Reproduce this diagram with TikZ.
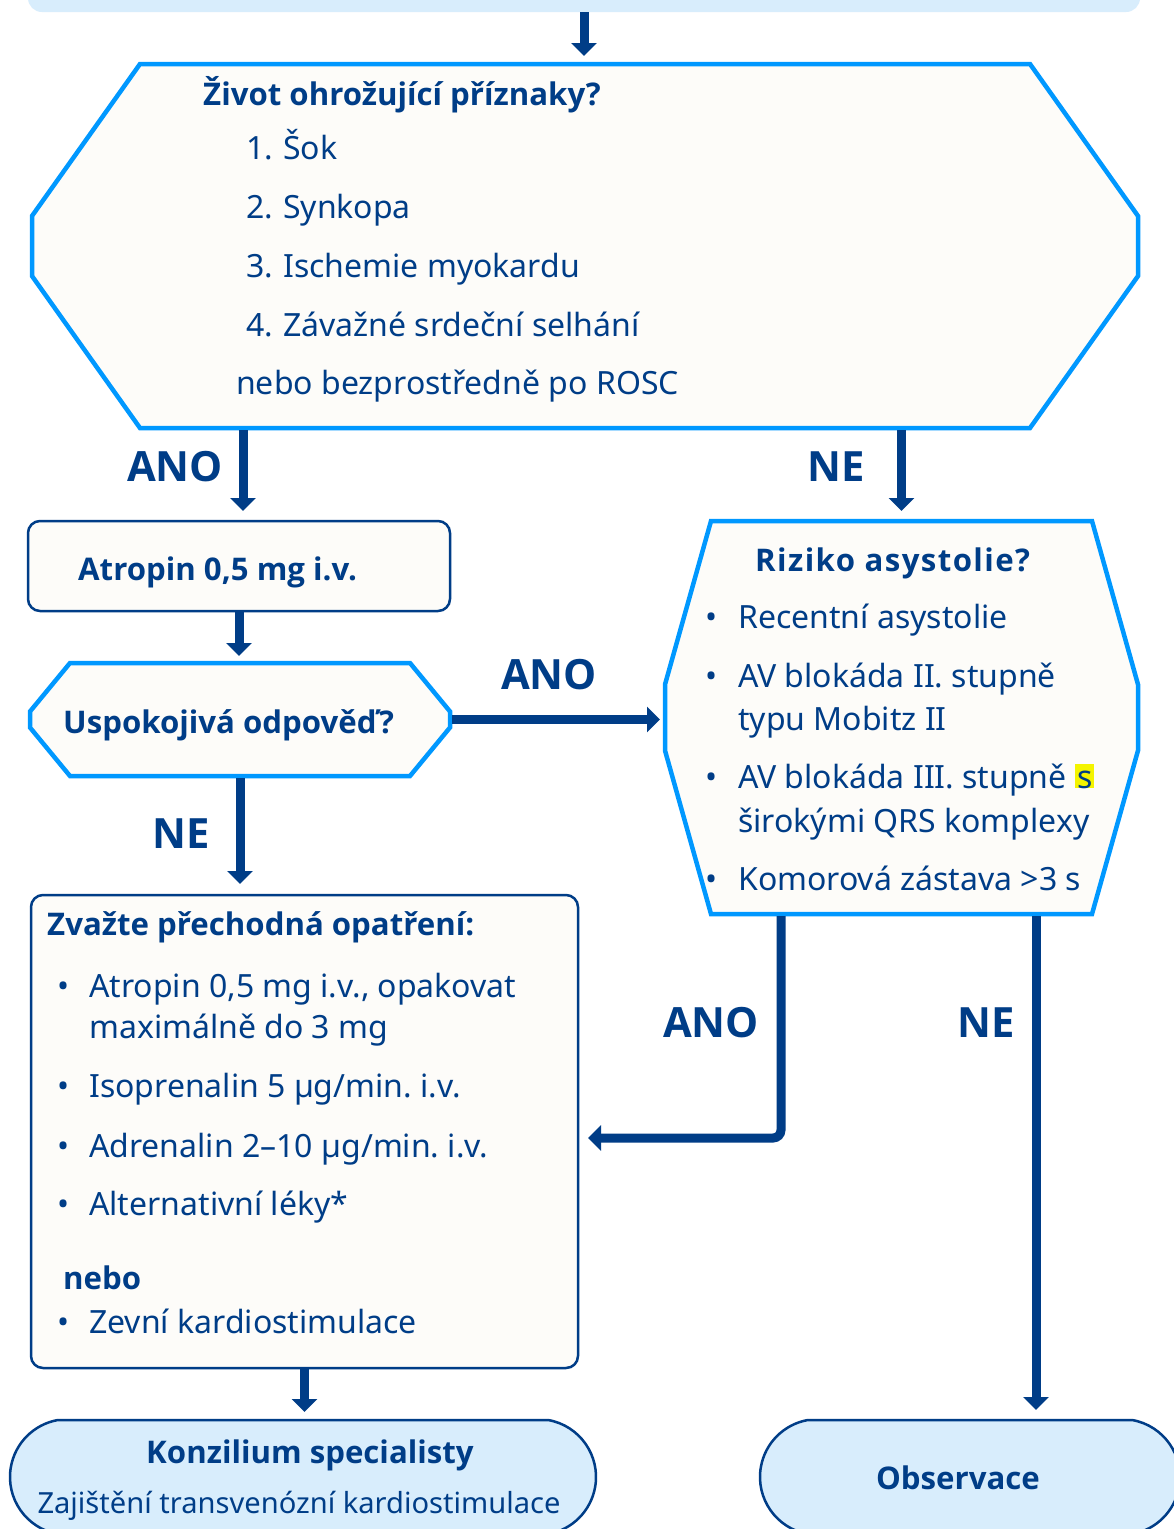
\documentclass[tikz,border=0pt]{standalone}
\usepackage{fontspec}
\setmainfont{Noto Sans}
\newfontfamily\headfont{Open Sans}
\usetikzlibrary{arrows.meta,calc,shapes.misc}

\definecolor{navy}{HTML}{003D87}
\definecolor{brightblue}{HTML}{0098FF}
\definecolor{paper}{HTML}{FDFCF9}
\definecolor{skyfill}{HTML}{D8EDFC}
\definecolor{marker}{HTML}{F4F400}

\frenchspacing
\newcommand{\hilite}[1]{{\setlength{\fboxsep}{0pt}\colorbox{marker}{\rule{0pt}{24pt}\hspace{2pt}#1\hspace{2pt}}}}

% cut-corner outline around a holder node: name, corner cut, half side
\newcommand{\cutframe}[3]{%
  \draw[decision] ($(#1.north west)+(#2,0)$) -- ($(#1.north east)+(-#2,0)$)
    -- ($(#1.east)+(0,-#3)$) -- ($(#1.east)+(0,#3)$)
    -- ($(#1.south east)+(-#2,0)$) -- ($(#1.south west)+(#2,0)$)
    -- ($(#1.west)+(0,#3)$) -- ($(#1.west)+(0,-#3)$) -- cycle;}

\tikzset{
  holder/.style={rectangle, inner sep=0pt, outer sep=0pt},
  decision/.style={draw=brightblue, fill=paper, line width=4.5pt},
  roundbox/.style={holder, draw=navy, fill=paper, line width=2.5pt, rounded corners=12pt},
  terminal/.style={rounded rectangle, rounded rectangle arc length=160, draw=navy,
    fill=skyfill, line width=2.5pt, inner sep=0pt, outer sep=0pt},
  flow/.style={draw=navy, line width=9pt, -{Triangle[width=25pt,length=13pt]}},
  txt/.style={anchor=base west, inner sep=0pt, text=navy, font=\fontsize{32}{43}\selectfont},
  boldtxt/.style={txt, font=\headfont\fontsize{31.2}{43}\selectfont\bfseries},
  answer/.style={anchor=base west, inner sep=0pt, text=navy, font=\headfont\fontsize{41.7}{50}\selectfont\bfseries},
  bulletmark/.style={anchor=base, inner sep=0pt, text=navy, font=\fontsize{32}{43}\selectfont},
}

\begin{document}
\begin{tikzpicture}[x=1pt,y=-1pt]
    \useasboundingbox (0,0) rectangle (1174,1529);
    \fill[white] (0,0) rectangle (1174,1529);
    \clip (0,0) rectangle (1174,1529);

    % boxes
    \node[holder, fill=skyfill, rounded corners=14pt, minimum width=1112pt, minimum height=50pt] (top) at (584,-13) {};
    \node[holder, minimum width=1106pt, minimum height=364pt] (threat) at (585,246) {};
    \cutframe{threat}{108}{30}
    \node[roundbox, minimum width=422pt, minimum height=90pt] (atropin) at (239,566) {};
    \node[holder, minimum width=420pt, minimum height=113pt] (response) at (240,719.5) {};
    \cutframe{response}{40}{8}
    \node[holder, minimum width=473pt, minimum height=393pt] (risk) at (901.5,717.5) {};
    \cutframe{risk}{46}{33}
    \node[roundbox, minimum width=547pt, minimum height=473pt] (measures) at (304.5,1131.5) {};
    \node[terminal, minimum width=586pt, minimum height=114pt] (consult) at (303,1477) {};
    \node[terminal, minimum width=420pt, minimum height=114pt] (observe) at (970,1477) {};

    % texts
    \node[boldtxt] (threat-title) at (203,105) {Život ohrožující příznaky?};
    \foreach \n/\y/\t in {1/159/Šok, 2/218/Synkopa, 3/277/Ischemie myokardu, 4/336/Závažné srdeční selhání} {
        \node[txt] (num-\n) at (246,\y) {\n.};
        \node[txt] (sign-\n) at (283,\y) {\t};
    }
    \node[txt] (threat-or) at (236,394) {nebo bezprostředně po ROSC};

    \node[boldtxt] (atropin-text) at (78,580) {Atropin 0,5 mg i.v.};
    \node[boldtxt] (response-text) at (63,733) {Uspokojivá odpověď?};

    \node[boldtxt] (risk-title) at (755,571) {\addfontfeatures{LetterSpace=4.5}Riziko asystolie?};
    \foreach \y in {628,687,788,890}
        \node[bulletmark] (rb-\y) at (712,\y) {•};
    \node[txt] (risk-1) at (738,628) {Recentní asystolie};
    \node[txt] (risk-2) at (738,687) {AV blokáda II. stupně};
    \node[txt] (risk-2b) at (738,730) {typu Mobitz II};
    \node[txt] (risk-3) at (738,788) {AV blokáda III. stupně \hilite{s}};
    \node[txt] (risk-3b) at (738,832) {širokými QRS komplexy};
    \node[txt] (risk-4) at (738,890) {Komorová zástava >3 s};

    \node[boldtxt] (measures-title) at (47,935) {Zvažte přechodná opatření:};
    \foreach \y in {997,1097,1157,1215,1333}
        \node[bulletmark] (mb-\y) at (64,\y) {•};
    \node[txt] (drug-1) at (89,997) {Atropin 0,5 mg i.v., opakovat};
    \node[txt] (drug-1b) at (89,1038) {maximálně do 3 mg};
    \node[txt] (drug-2) at (89,1097) {Isoprenalin 5 µg/min. i.v.};
    \node[txt] (drug-3) at (89,1157) {Adrenalin 2–10 µg/min. i.v.};
    \node[txt] (drug-4) at (89,1215) {Alternativní léky*};
    \node[boldtxt] (measures-or) at (63,1289) {nebo};
    \node[txt] (pacing) at (89,1333) {Zevní kardiostimulace};

    \node[boldtxt, anchor=base] (consult-title) at (310,1463) {Konzilium specialisty};
    \node[txt, anchor=base, font=\fontsize{29.1}{40}\selectfont] (consult-text) at (299,1513) {Zajištění transvenózní kardiostimulace};
    \node[boldtxt, anchor=base] (observe-text) at (958,1489) {Observace};

    % answers
    \node[answer] (yes-1) at (127,481) {ANO};
    \node[answer] (no-1) at (807,481) {NE};
    \node[answer] (yes-2) at (501,689) {ANO};
    \node[answer] (no-2) at (152,848) {NE};
    \node[answer] (yes-3) at (663,1037) {ANO};
    \node[answer] (no-3) at (957,1037) {NE};

    % arrows
    \coordinate (threat-yes) at ($(threat.south -| atropin.north)+(4,0)$);
    \coordinate (risk-yes) at ($(risk.south)+(-120.5,0)$);
    \coordinate (risk-no) at ($(risk.south)+(134.5,0)$);
    \draw[flow, shorten >=8pt] (top.south) -- (top.south |- threat.north);
    \draw[flow, shorten <=2pt, shorten >=10pt] (threat-yes) -- (threat-yes |- atropin.north);
    \draw[flow, shorten <=2pt, shorten >=10pt] (threat.south -| risk.north) -- (risk.north);
    \draw[flow, shorten >=7pt] (atropin.south) -- (atropin.south |- response.north);
    \draw[flow, shorten <=2pt, shorten >=5pt] (response.east) -- (response.east -| risk.west);
    \draw[flow, shorten <=2pt, shorten >=11pt] (response.south) -- (response.south |- measures.north);
    \draw[flow, rounded corners=8pt, shorten <=2pt, shorten >=10pt] (risk-yes) |- ($(measures.east)+(0,6.5)$);
    \draw[flow, shorten <=2pt, shorten >=10pt] (risk-no) -- (risk-no |- observe.north);
    \draw[flow, shorten >=8pt] (measures.south) -- (measures.south |- consult.north);

\end{tikzpicture}
\end{document}
